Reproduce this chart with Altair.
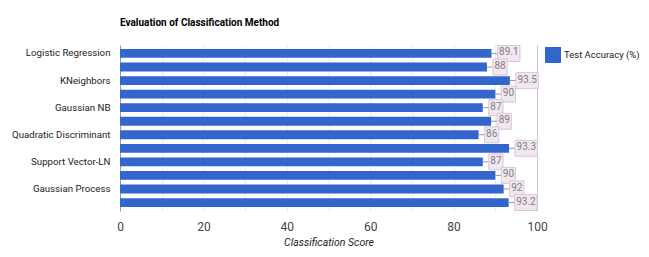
import altair as alt
import pandas as pd

labels = ["Logistic Regression", "", "KNeighbors", "", "Gaussian NB", "",
          "Quadratic Discriminant", "", "Support Vector-LN", "", "Gaussian Process", ""]
values = [89.1, 88, 93.5, 90, 87, 89, 86, 93.3, 87, 90, 92, 93.2]
value_text = ["89.1", "88", "93.5", "90", "87", "89", "86", "93.3", "87", "90", "92", "93.2"]
series_name = "Test Accuracy (%)"

FONT = "Roboto, Liberation Sans, Arial, sans-serif"
PLOT_W, PLOT_H = 417, 166
PX_PER_UNIT = PLOT_W / 100.0
STEM_PX = 6
ANN_FONT = 10

def text_px(s):
    return sum(2.6 if ch == "." else 5.6 for ch in s)

df = pd.DataFrame({
    "idx": list(range(len(values))),
    "value": values,
    "txt": value_text,
    "series": series_name,
})
df["stem_end"] = df["value"] + STEM_PX / PX_PER_UNIT
df["box_end"] = df["stem_end"] + df["txt"].map(lambda s: (text_px(s) + 3) / PX_PER_UNIT)

label_expr = "[" + ",".join("'" + l + "'" for l in labels) + "][datum.value]"

y_enc = alt.Y("idx:O", title=None,
              scale=alt.Scale(paddingInner=0.35, paddingOuter=0.3),
              axis=alt.Axis(labelExpr=label_expr, ticks=False, domainColor="#9a9a9a",
                            labelFontSize=9.7, labelColor="#222222", labelPadding=10,
                            labelFont=FONT, grid=False, labelLimit=200))

base = alt.Chart(df)

bars = base.mark_bar(color="#3366cc").encode(
    x=alt.X("value:Q", scale=alt.Scale(domain=[0, 100]),
            title="Classification Score",
            axis=alt.Axis(values=list(range(0, 101, 10)),
                          labelExpr="datum.value % 20 == 0 ? datum.label : ''",
                          labelFlush=False,
                          domain=False, ticks=False, labelPadding=10,
                          labelFontSize=12, labelColor="#444444", labelFont=FONT,
                          titleFont=FONT, titleFontSize=10.5, titleFontStyle="italic",
                          titleFontWeight="normal", titleColor="#222222", titlePadding=5,
                          gridColor=alt.condition("datum.value == 100", alt.value("#c8c8c8"), alt.value("#ebebeb")))),
    y=y_enc,
    color=alt.Color("series:N", scale=alt.Scale(range=["#3366cc"]),
                    legend=alt.Legend(title=None, symbolType="square", symbolSize=256,
                                      symbolStrokeWidth=0, labelFontSize=9.5,
                                      labelFont=FONT, labelColor="#222222", labelOffset=3,
                                      labelLimit=200, orient="right", offset=6, padding=2)),
)

stems = base.mark_rule(color="#999999", strokeWidth=1).encode(
    x=alt.X("value:Q"), x2="stem_end:Q", y=alt.Y("idx:O"),
)

boxes = base.mark_bar(height=16, color="#f1e6f1", stroke="#d8c6d8", strokeWidth=1).encode(
    x=alt.X("stem_end:Q"), x2="box_end:Q", y=alt.Y("idx:O"),
)

texts = base.mark_text(align="left", baseline="middle", dx=1.5, dy=-1, fontSize=ANN_FONT,
                       font=FONT, color="#808080").encode(
    x=alt.X("stem_end:Q"), y=alt.Y("idx:O"), text="txt:N",
)

chart = alt.layer(bars, stems, boxes, texts).properties(
    width=PLOT_W, height=PLOT_H,
    autosize=alt.AutoSizeParams(type="none"),
    padding={"left": 112, "top": 37, "right": 649 - 16 - 112 - PLOT_W, "bottom": 257 - 16 - 37 - PLOT_H},
    title=alt.Title("Evaluation of Classification Method", anchor="start", frame="group",
                    font=FONT, fontSize=10, fontWeight="bold", color="#000000", offset=17),
).configure_view(stroke=None)

chart.save("out.html", embed_options={"renderer": "svg", "actions": False})
